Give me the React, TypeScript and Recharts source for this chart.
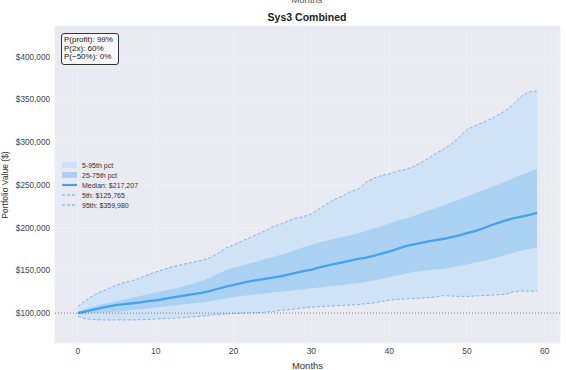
import {
  ComposedChart, Area, Line, XAxis, YAxis, CartesianGrid, ReferenceLine,
} from 'recharts'

// month index 0..59
const months = Array.from({ length: 60 }, (_, i) => i)

// percentile paths, in $k
const p5 = [
  96, 93.5, 92.5, 92, 92, 92, 92, 92, 92.3, 92.6,
  93, 93.5, 94, 94.5, 95, 95.7, 96.5, 97.5, 98.5, 99,
  99.5, 100, 100, 100.5, 101, 102, 103, 104, 105, 106,
  107, 107.5, 108, 108.5, 109, 109.5, 110, 111, 112, 113.5,
  115, 116, 116.5, 117, 117.5, 118, 119, 120.5, 120, 119.5,
  119.5, 120, 120.5, 121, 121.5, 122, 125, 126, 125.5, 125.765,
]
const p25 = [
  99, 99.5, 100, 100.5, 101, 101.5, 102.5, 103.5, 104.5, 105.5,
  106.5, 107.5, 108.5, 109.5, 110.5, 111.5, 112.5, 114, 115.5, 117,
  118.5, 120, 121, 122, 123, 124, 125, 126, 127, 128,
  129, 130, 131, 132, 133, 134, 135, 136.5, 138, 140,
  142, 144, 146, 148, 149, 150, 151, 152, 153.5, 155,
  157, 159, 161, 163, 165.5, 168, 170.5, 173, 175, 176.7,
]
const p50 = [
  100, 102, 104, 106, 108, 109.5, 110.5, 111.5, 112.5, 114,
  115, 116.5, 118, 119.5, 121, 122.5, 124, 126, 128.5, 131,
  133, 135, 137, 138.5, 140, 141.5, 143, 145, 147, 149,
  151, 153.5, 155.5, 157.5, 159.5, 161.5, 163.5, 165, 167, 169.5,
  172, 175, 178, 180, 182, 184, 185.5, 187, 189, 191,
  193.5, 196, 199, 202.5, 205.5, 208.5, 211, 213, 215, 217.207,
]
const p75 = [
  102, 105, 107.5, 110, 112, 114, 116, 118, 120, 122,
  124, 126, 128, 130, 132.5, 135, 138, 141.5, 146, 150,
  153, 155.5, 158, 160.5, 163, 165.5, 168, 171, 174, 177,
  180, 182.5, 185, 187, 189, 191, 193.5, 196, 199, 202,
  205, 208, 210.5, 213, 216.5, 220, 223, 226, 229.5, 233,
  236.5, 240, 243.5, 247, 250.5, 254, 258, 262, 265.5, 269,
]
const p95 = [
  108, 115, 121, 125, 129, 133, 136, 138, 141, 145,
  148, 151, 154, 156, 158, 160, 162, 165, 170, 176,
  180, 184, 188, 192, 196, 201, 204, 208, 211, 213,
  216, 222, 228, 233, 237, 242, 245, 253, 258, 261,
  263, 266, 268, 271, 276, 281, 287, 292, 298, 306,
  315, 319, 323, 327, 332, 337, 345, 354, 359, 359.98,
]

const xTicks = [0, 10, 20, 30, 40, 50, 60]
const yTicks = [100000, 150000, 200000, 250000, 300000, 350000, 400000]
const stats = ['P(profit): 99%', 'P(2x): 60%', 'P(\u221250%): 0%']

const data = months.map((m, i) => ({
  m,
  outer: [p5[i] * 1000, p95[i] * 1000],
  inner: [p25[i] * 1000, p75[i] * 1000],
  median: p50[i] * 1000,
  lo: p5[i] * 1000,
  hi: p95[i] * 1000,
}))

const OUTER = '#d0e2f5'
const INNER = '#abd1f3'
const MED = '#45a2ee'
const DASH = '#6aaae2'
const font = '"Liberation Sans", Arial, sans-serif'

const money = (v: number) => '$' + v.toLocaleString('en-US')

export default function App() {
  const legend = [
    { label: '5-95th pct', kind: 'box', color: OUTER },
    { label: '25-75th pct', kind: 'box', color: INNER },
    { label: 'Median: $217,207', kind: 'line', color: MED },
    { label: '5th: $125,765', kind: 'dash', color: DASH },
    { label: '95th: $359,980', kind: 'dash', color: DASH },
  ]
  return (
    <div style={{ position: 'absolute', left: 0, top: 0, width: 566, height: 370, background: '#fff', fontFamily: font }}>
      <ComposedChart width={566} height={370} data={data} margin={{ top: 26, right: 6, bottom: 0, left: 0 }}>
        <CartesianGrid fill="#eaeaf2" stroke="#eeeef5" strokeWidth={1} />
        <XAxis
          dataKey="m" type="number" domain={[-2.95, 61.95]} ticks={xTicks}
          axisLine={false} tickLine={false} tickSize={3} tickMargin={2} height={27}
          tick={{ fontSize: 8.5, fill: '#444', fontFamily: font }}
          label={{ value: 'Months', position: 'insideBottom', offset: 1, fontSize: 9.5, fill: '#333', fontFamily: font }}
        />
        <YAxis
          type="number" domain={[65000, 436000]} ticks={yTicks} width={55}
          axisLine={false} tickLine={false} tickSize={3} tickMargin={2}
          tickFormatter={money} tick={{ fontSize: 8.2, fill: '#444', fontFamily: font }}
        />
        <Area dataKey="outer" type="linear" stroke="none" fill={OUTER} fillOpacity={1} isAnimationActive={false} />
        <Area dataKey="inner" type="linear" stroke="none" fill={INNER} fillOpacity={1} isAnimationActive={false} />
        <Line dataKey="lo" type="linear" stroke={DASH} strokeWidth={0.8} strokeDasharray="3 2" dot={false} isAnimationActive={false} />
        <Line dataKey="hi" type="linear" stroke={DASH} strokeWidth={0.8} strokeDasharray="3 2" dot={false} isAnimationActive={false} />
        <Line dataKey="median" type="linear" stroke={MED} strokeWidth={2.3} dot={false} isAnimationActive={false} />
        <ReferenceLine y={100000} stroke="#666" strokeWidth={0.8} strokeDasharray="1 2" />
      </ComposedChart>

      <div style={{ position: 'absolute', left: 0, width: 614, top: -6, textAlign: 'center', fontSize: 9.5, color: '#555' }}>Months</div>
      <div style={{ position: 'absolute', left: 0, width: 614, top: 11, textAlign: 'center', fontSize: 10.5, fontWeight: 'bold', color: '#222' }}>Sys3 Combined</div>
      <div style={{ position: 'absolute', left: 5, top: 185, width: 0, height: 0 }}>
        <div style={{ position: 'absolute', left: 0, top: 0, transform: 'translate(-50%, -50%) rotate(-90deg)', fontSize: 8.5, lineHeight: '9px', color: '#333', whiteSpace: 'nowrap' }}>
          Portfolio Value ($)
        </div>
      </div>

      <div style={{ position: 'absolute', left: 61, top: 33, width: 52, padding: '2px 2px', border: '1px solid #333', borderRadius: 3, background: '#f7f7fa', fontSize: 8, lineHeight: '8.5px', color: '#222' }}>
        {stats.map(s => <div key={s}>{s}</div>)}
      </div>

      <div style={{ position: 'absolute', left: 62, top: 160, fontSize: 7, color: '#333' }}>
        {legend.map(l => (
          <div key={l.label} style={{ display: 'flex', alignItems: 'center', height: 10 }}>
            <svg width={16} height={8} style={{ marginRight: 4 }}>
              {l.kind === 'box' && <rect x={0} y={1} width={15} height={6} fill={l.color} />}
              {l.kind === 'line' && <line x1={0} x2={15} y1={4} y2={4} stroke={l.color} strokeWidth={2.2} />}
              {l.kind === 'dash' && <line x1={0} x2={15} y1={4} y2={4} stroke={l.color} strokeWidth={0.9} strokeDasharray="3 2" />}
            </svg>
            <span>{l.label}</span>
          </div>
        ))}
      </div>
    </div>
  )
}
